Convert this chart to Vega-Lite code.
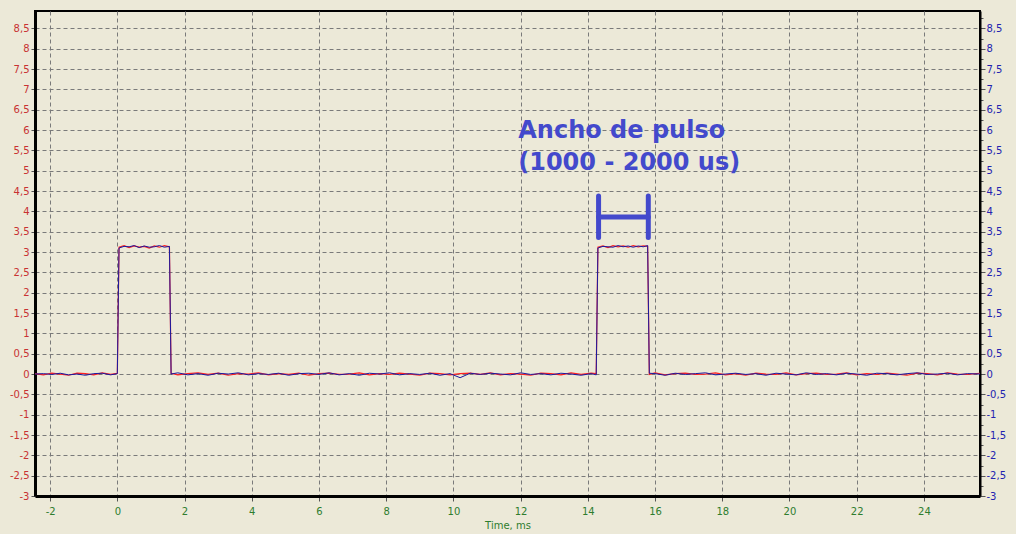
{
  "$schema": "https://vega.github.io/schema/vega-lite/v6.json",
  "autosize": {"type": "none"},
  "padding": {"left": 35, "top": 11, "right": 36, "bottom": 38},
  "width": 945,
  "height": 485,
  "background": "#ECE9D8",
  "config": {
    "view": {"stroke": "#000000", "strokeWidth": 2},
    "axis": {"labelFont": "DejaVu Sans", "labelFontSize": 10, "titleFont": "DejaVu Sans"}
  },
  "datasets": {
    "signal": [
      {"t": -2.45, "r": 0.01, "b": 0.0},
      {"t": -2.2, "r": -0.02, "b": 0.01},
      {"t": -1.95, "r": 0.02, "b": -0.01},
      {"t": -1.7, "r": 0.0, "b": 0.02},
      {"t": -1.45, "r": -0.03, "b": -0.02},
      {"t": -1.2, "r": 0.02, "b": 0.0},
      {"t": -0.95, "r": 0.01, "b": -0.03},
      {"t": -0.7, "r": -0.02, "b": 0.01},
      {"t": -0.45, "r": 0.03, "b": 0.02},
      {"t": -0.2, "r": -0.01, "b": -0.02},
      {"t": 0.0, "r": 0.02, "b": 0.01},
      {"t": 0.05, "r": 3.12, "b": 3.1},
      {"t": 0.2, "r": 3.16, "b": 3.14},
      {"t": 0.35, "r": 3.11, "b": 3.13},
      {"t": 0.5, "r": 3.15, "b": 3.16},
      {"t": 0.65, "r": 3.12, "b": 3.11},
      {"t": 0.8, "r": 3.14, "b": 3.15},
      {"t": 0.95, "r": 3.1, "b": 3.12},
      {"t": 1.1, "r": 3.15, "b": 3.13},
      {"t": 1.25, "r": 3.12, "b": 3.16},
      {"t": 1.4, "r": 3.16, "b": 3.12},
      {"t": 1.55, "r": 3.13, "b": 3.14},
      {"t": 1.6, "r": 0.02, "b": 0.0},
      {"t": 1.8, "r": -0.02, "b": 0.03},
      {"t": 2.1, "r": 0.01, "b": -0.02},
      {"t": 2.4, "r": 0.03, "b": 0.01},
      {"t": 2.7, "r": -0.01, "b": -0.03},
      {"t": 3.0, "r": 0.02, "b": 0.02},
      {"t": 3.3, "r": -0.03, "b": 0.0},
      {"t": 3.6, "r": 0.01, "b": 0.03},
      {"t": 3.9, "r": 0.0, "b": -0.02},
      {"t": 4.2, "r": 0.03, "b": 0.01},
      {"t": 4.5, "r": -0.02, "b": -0.01},
      {"t": 4.8, "r": 0.01, "b": 0.02},
      {"t": 5.1, "r": -0.01, "b": -0.03},
      {"t": 5.4, "r": 0.02, "b": 0.01},
      {"t": 5.7, "r": -0.03, "b": 0.02},
      {"t": 6.0, "r": 0.01, "b": -0.01},
      {"t": 6.3, "r": 0.02, "b": 0.03},
      {"t": 6.6, "r": -0.01, "b": -0.02},
      {"t": 6.9, "r": 0.0, "b": 0.01},
      {"t": 7.2, "r": 0.03, "b": -0.03},
      {"t": 7.5, "r": -0.02, "b": 0.02},
      {"t": 7.8, "r": 0.01, "b": 0.0},
      {"t": 8.1, "r": -0.01, "b": 0.03},
      {"t": 8.4, "r": 0.02, "b": -0.02},
      {"t": 8.7, "r": 0.0, "b": 0.01},
      {"t": 9.0, "r": -0.03, "b": -0.01},
      {"t": 9.3, "r": 0.02, "b": 0.02},
      {"t": 9.6, "r": 0.01, "b": -0.03},
      {"t": 9.9, "r": -0.02, "b": 0.01},
      {"t": 10.2, "r": 0.01, "b": -0.09},
      {"t": 10.5, "r": 0.02, "b": 0.02},
      {"t": 10.8, "r": -0.01, "b": -0.01},
      {"t": 11.1, "r": 0.03, "b": 0.02},
      {"t": 11.4, "r": -0.02, "b": 0.0},
      {"t": 11.7, "r": 0.01, "b": -0.02},
      {"t": 12.0, "r": 0.0, "b": 0.03},
      {"t": 12.3, "r": -0.03, "b": -0.01},
      {"t": 12.6, "r": 0.02, "b": 0.01},
      {"t": 12.9, "r": 0.01, "b": -0.02},
      {"t": 13.2, "r": -0.02, "b": 0.02},
      {"t": 13.5, "r": 0.03, "b": 0.0},
      {"t": 13.8, "r": -0.01, "b": -0.03},
      {"t": 14.1, "r": 0.02, "b": 0.01},
      {"t": 14.25, "r": 0.01, "b": -0.02},
      {"t": 14.3, "r": 3.12, "b": 3.1},
      {"t": 14.45, "r": 3.15, "b": 3.14},
      {"t": 14.6, "r": 3.11, "b": 3.13},
      {"t": 14.75, "r": 3.16, "b": 3.12},
      {"t": 14.9, "r": 3.13, "b": 3.16},
      {"t": 15.05, "r": 3.15, "b": 3.13},
      {"t": 15.2, "r": 3.12, "b": 3.15},
      {"t": 15.35, "r": 3.16, "b": 3.12},
      {"t": 15.5, "r": 3.13, "b": 3.15},
      {"t": 15.65, "r": 3.15, "b": 3.13},
      {"t": 15.78, "r": 3.14, "b": 3.16},
      {"t": 15.83, "r": -0.01, "b": 0.02},
      {"t": 16.0, "r": 0.03, "b": 0.01},
      {"t": 16.3, "r": -0.02, "b": -0.03},
      {"t": 16.6, "r": 0.01, "b": 0.02},
      {"t": 16.9, "r": 0.02, "b": -0.01},
      {"t": 17.2, "r": -0.01, "b": 0.01},
      {"t": 17.5, "r": 0.0, "b": 0.03},
      {"t": 17.8, "r": 0.03, "b": -0.02},
      {"t": 18.1, "r": -0.02, "b": 0.0},
      {"t": 18.4, "r": 0.01, "b": 0.02},
      {"t": 18.7, "r": -0.03, "b": -0.01},
      {"t": 19.0, "r": 0.02, "b": 0.01},
      {"t": 19.3, "r": 0.0, "b": -0.03},
      {"t": 19.6, "r": -0.01, "b": 0.02},
      {"t": 19.9, "r": 0.03, "b": 0.0},
      {"t": 20.2, "r": -0.02, "b": -0.02},
      {"t": 20.5, "r": 0.01, "b": 0.03},
      {"t": 20.8, "r": 0.02, "b": -0.01},
      {"t": 21.1, "r": -0.01, "b": 0.01},
      {"t": 21.4, "r": 0.0, "b": -0.02},
      {"t": 21.7, "r": 0.03, "b": 0.02},
      {"t": 22.0, "r": -0.02, "b": 0.0},
      {"t": 22.3, "r": 0.01, "b": -0.03},
      {"t": 22.6, "r": -0.01, "b": 0.02},
      {"t": 22.9, "r": 0.02, "b": 0.01},
      {"t": 23.2, "r": 0.0, "b": -0.02},
      {"t": 23.5, "r": -0.03, "b": 0.01},
      {"t": 23.8, "r": 0.02, "b": 0.03},
      {"t": 24.1, "r": 0.01, "b": -0.01},
      {"t": 24.4, "r": -0.02, "b": 0.0},
      {"t": 24.7, "r": 0.03, "b": 0.02},
      {"t": 25.0, "r": 0.0, "b": -0.02},
      {"t": 25.3, "r": -0.01, "b": 0.01},
      {"t": 25.67, "r": 0.02, "b": 0.0}
    ],
    "notes": [
      {"t": 11.93, "v": 5.97, "label": "Ancho de pulso"},
      {"t": 11.93, "v": 5.2, "label": "(1000 - 2000 us)"}
    ],
    "bracket": [
      {"t1": 14.32, "t2": 14.32, "v1": 4.38, "v2": 3.36},
      {"t1": 15.8, "t2": 15.8, "v1": 4.38, "v2": 3.36},
      {"t1": 14.32, "t2": 15.8, "v1": 3.86, "v2": 3.86}
    ]
  },
  "resolve": {"axis": {"y": "independent"}, "scale": {"y": "shared"}},
  "layer": [
    {
      "data": {"name": "signal"},
      "mark": {"type": "line", "color": "#FF2020", "strokeWidth": 1.2, "clip": true},
      "encoding": {
        "x": {
          "field": "t",
          "type": "quantitative",
          "scale": {"domain": [-2.45, 25.67], "nice": false, "zero": false},
          "axis": {
            "orient": "bottom",
            "title": "Time, ms",
            "titleColor": "#2E7D2E",
            "titleFontSize": 10,
            "titleFontWeight": "normal",
            "titlePadding": 4,
            "values": [-2, -1.5, -1, -0.5, 0, 0.5, 1, 1.5, 2, 2.5, 3, 3.5, 4, 4.5, 5, 5.5, 6, 6.5, 7, 7.5, 8, 8.5, 9, 9.5, 10, 10.5, 11, 11.5, 12, 12.5, 13, 13.5, 14, 14.5, 15, 15.5, 16, 16.5, 17, 17.5, 18, 18.5, 19, 19.5, 20, 20.5, 21, 21.5, 22, 22.5, 23, 23.5, 24, 24.5, 25, 25.5],
            "labelExpr": "datum.value % 2 == 0 ? '' + datum.value : ''",
            "labelOverlap": false,
            "labelColor": "#2E7D2E",
            "labelPadding": 5,
            "domainColor": "#000000",
            "domainWidth": 3,
            "tickColor": "#555555",
            "tickSize": {"condition": {"test": "datum.value % 2 == 0", "value": 5}, "value": 3},
            "grid": true,
            "gridColor": "#7A7A7A",
            "gridDash": [4, 3],
            "gridOpacity": {"condition": {"test": "datum.value % 2 == 0", "value": 1}, "value": 0}
          }
        },
        "y": {
          "field": "r",
          "type": "quantitative",
          "scale": {"domain": [-3, 8.93], "nice": false, "zero": false},
          "axis": {
            "orient": "left",
            "title": null,
            "values": [-3, -2.5, -2, -1.5, -1, -0.5, 0, 0.5, 1, 1.5, 2, 2.5, 3, 3.5, 4, 4.5, 5, 5.5, 6, 6.5, 7, 7.5, 8, 8.5],
            "labelExpr": "replace('' + datum.value, '.', ',')",
            "labelOverlap": false,
            "labelColor": "#C83232",
            "labelPadding": 2,
            "domainColor": "#000000",
            "domainWidth": 3,
            "tickColor": "#555555",
            "tickSize": 4,
            "grid": true,
            "gridColor": "#7A7A7A",
            "gridDash": [4, 3]
          }
        }
      }
    },
    {
      "data": {"name": "signal"},
      "mark": {"type": "line", "color": "#1A1AA0", "strokeWidth": 1, "clip": true},
      "encoding": {
        "x": {"field": "t", "type": "quantitative"},
        "y": {
          "field": "b",
          "type": "quantitative",
          "axis": {
            "orient": "right",
            "title": null,
            "values": [-3, -2.75, -2.5, -2.25, -2, -1.75, -1.5, -1.25, -1, -0.75, -0.5, -0.25, 0, 0.25, 0.5, 0.75, 1, 1.25, 1.5, 1.75, 2, 2.25, 2.5, 2.75, 3, 3.25, 3.5, 3.75, 4, 4.25, 4.5, 4.75, 5, 5.25, 5.5, 5.75, 6, 6.25, 6.5, 6.75, 7, 7.25, 7.5, 7.75, 8, 8.25, 8.5, 8.75],
            "labelExpr": "datum.value % 0.5 == 0 ? replace('' + datum.value, '.', ',') : ''",
            "labelOverlap": false,
            "labelColor": "#2323B0",
            "labelPadding": 1,
            "domainColor": "#000000",
            "domainWidth": 2,
            "tickColor": "#555555",
            "tickSize": {"condition": {"test": "datum.value % 0.5 == 0", "value": 5}, "value": 3},
            "grid": false
          }
        }
      }
    },
    {
      "data": {"name": "bracket"},
      "mark": {"type": "rule", "color": "#4349CC", "strokeWidth": 5, "strokeCap": "round"},
      "encoding": {
        "x": {"field": "t1", "type": "quantitative"},
        "x2": {"field": "t2"},
        "y": {"field": "v1", "type": "quantitative", "axis": null},
        "y2": {"field": "v2"}
      }
    },
    {
      "data": {"name": "notes"},
      "mark": {"type": "text", "align": "left", "baseline": "middle", "font": "DejaVu Sans", "fontSize": 24, "fontWeight": "bold", "color": "#4349CC"},
      "encoding": {
        "x": {"field": "t", "type": "quantitative"},
        "y": {"field": "v", "type": "quantitative", "axis": null},
        "text": {"field": "label"}
      }
    }
  ]
}
